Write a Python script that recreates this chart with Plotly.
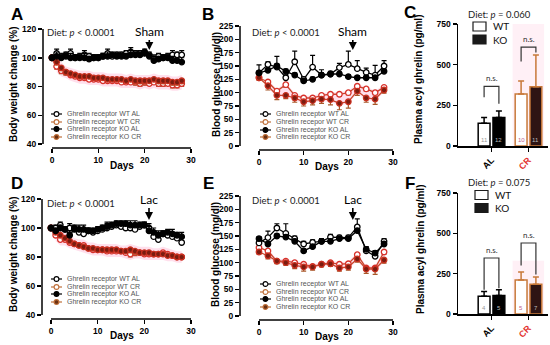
import plotly.graph_objects as go

W, H = 550, 345

# ---------------- data ----------------
days = list(range(29))
days2 = list(range(0, 29, 2))

# Panel A (body weight, sham)
a_wt_al = [100,103,101,102,103,100,101,102,101,100,100,101,103,101,102,102,103,104,103,103,104,102,99,101,100,101,102,102,102]
a_ko_al = [100,101,100,101,100,100,100,100,99,100,100,101,101,102,101,101,101,102,102,102,103,101,98,99,100,100,98,98,97]
a_wt_cr = [100,94,91,90,88,87,86,86,85,85,85,84,84,84,84,83,83,83,83,82,83,82,83,82,82,82,81,81,82]
a_ko_cr = [100,97,93,90,89,88,87,87,87,86,86,86,85,85,85,85,84,85,84,84,84,84,85,84,84,84,83,83,84]
a_al_err = [0,3,2,2,3,2,2,3,2,2,2,2,3,2,2,2,2,3,2,2,2,2,3,2,2,2,3,2,3]
a_cr_err = [0,2,2,2,1,1,1,1,1,1,1,1,1,1,1,1,1,1,2,2,2,1,1,2,2,1,2,2,2]

# Panel B (blood glucose, sham)
b_wt_al = [137,153,148,128,158,125,148,133,135,147,153,145,138,133,150]
b_ko_al = [137,142,150,140,133,122,125,133,135,135,130,128,128,128,140]
b_wt_cr = [128,120,103,115,95,90,90,95,97,97,100,112,107,100,110]
b_ko_cr = [128,113,95,95,90,83,85,88,87,80,83,103,90,88,105]
b_wt_al_err = [15,5,20,5,20,5,22,10,5,8,25,15,8,18,10]
b_ko_al_err = [4,4,4,4,4,4,4,4,4,4,4,4,4,4,4]
b_wt_cr_err = [4,4,4,5,5,4,4,4,4,4,4,4,4,4,4]
b_ko_cr_err = [4,8,8,6,8,8,8,8,10,12,12,8,8,10,6]

# Panel C (plasma acyl ghrelin, sham)
groups = ["AL", "CR"]
c_wt = [140, 320]
c_ko = [175, 365]
c_wt_err = [35, 80]
c_ko_err = [40, 195]
c_n_wt = ["11", "10"]
c_n_ko = ["12", "11"]
c_br_top = [366, 608]
c_br_left = [300, 520]
c_br_right = [260, 575]

# Panel D (body weight, lac)
d_wt_al = [100,100,102,99,100,100,97,96,98,97,98,99,100,101,102,101,100,100,99,101,102,100,94,92,96,95,94,93,90]
d_ko_al = [100,98,100,99,95,99,99,99,98,98,99,100,101,102,103,103,103,102,102,102,102,98,97,95,96,97,96,95,94]
d_wt_cr = [100,95,92,92,90,89,88,88,86,85,85,85,84,84,84,84,83,82,83,83,82,82,82,82,83,82,81,80,80]
d_ko_cr = [100,97,95,93,91,89,88,87,86,86,85,85,85,85,85,84,84,85,84,83,83,83,82,82,82,81,81,80,80]
d_al_err = [0,2,2,2,3,2,3,3,2,2,2,2,3,2,2,2,2,3,3,2,2,3,3,3,2,2,3,2,3]
d_cr_err = [0,1,1,1,1,1,1,1,1,1,1,1,1,1,1,1,1,2,2,1,1,1,1,1,1,1,1,1,1]

# Panel E (blood glucose, lac)
e_wt_al = [137,147,165,155,145,135,138,140,148,147,147,167,122,112,140]
e_ko_al = [145,135,150,148,140,122,130,140,140,145,145,160,125,118,135]
e_wt_cr = [128,122,103,103,100,97,93,97,100,97,98,115,90,90,120]
e_ko_cr = [120,113,103,100,95,92,92,97,98,90,92,107,88,88,105]
e_wt_al_err = [5,12,8,18,5,5,5,5,5,4,4,15,8,10,5]
e_ko_al_err = [4,4,4,4,4,4,4,4,4,4,4,4,4,4,4]
e_wt_cr_err = [4,4,4,4,4,4,4,4,4,4,4,4,4,4,4]
e_ko_cr_err = [4,6,5,5,6,8,6,5,5,6,6,6,8,10,6]

# Panel F (plasma acyl ghrelin, lac)
f_wt = [110, 210]
f_ko = [115, 185]
f_wt_err = [30, 50]
f_ko_err = [35, 45]
f_n_wt = ["4", "5"]
f_n_ko = ["5", "7"]
f_br_top = [347, 440]
f_br_left = [150, 300]
f_br_right = [160, 245]

legend_names = ["Ghrelin receptor WT AL", "Ghrelin recepor WT CR",
                "Ghrelin receptor KO AL", "Ghrelin receptor KO CR"]

# ---------------- styling ----------------
TICKFONT = dict(family="Liberation Sans", size=8.5, color="black", weight="bold")
SOFT = "Lato"
RED = "#d8302a"
REDLINE = "#c8452a"
BROWN = "#7a1c10"
ERRCR = "#a8582a"
BARCR = "#c8793a"
PINK = "rgba(255,185,212,0.45)"

STY = {
    "wt_al": dict(line="black", fill="white", mline="black", err="black"),
    "wt_cr": dict(line=REDLINE, fill="white", mline=RED, err=ERRCR),
    "ko_al": dict(line="black", fill="black", mline="black", err="black"),
    "ko_cr": dict(line=REDLINE, fill=BROWN, mline="#c83020", err=ERRCR),
}


def fx(p):
    return p / W


def fy(p):
    return 1 - p / H


fig = go.Figure()
shapes = []
annots = []
layout_axes = {}


def ann(x, y, text, size=9, family=SOFT, color="black", xanchor="center", yanchor="middle",
        weight="normal", angle=0):
    annots.append(dict(x=fx(x), y=fy(y), xref="paper", yref="paper", text=text, showarrow=False,
                       xanchor=xanchor, yanchor=yanchor, textangle=angle,
                       font=dict(family=family, size=size, color=color, weight=weight)))


def line_panel(k, spine_x, x0px, x30px, axis_y, ytop_px, ybot_px, ymin, ymax, ystep,
               xs, series, errs, err_dirs, ytitle, ytitle_x, ytitle_y, days_y, days_x,
               diet_xy, arrow_text, arrow_tip_px, arrow_text_y, legend_x, legend_rows, letter, letter_xy):
    xa = "xaxis" if k == 1 else f"xaxis{k}"
    ya = "yaxis" if k == 1 else f"yaxis{k}"
    xr = "x" if k == 1 else f"x{k}"
    yr = "y" if k == 1 else f"y{k}"
    ppu_x = (x30px - x0px) / 30.0
    ppu_y = (ybot_px - ytop_px) / float(ymax - ymin)
    xlo = -(x0px - spine_x) / ppu_x
    ylo = ymin - (axis_y - ybot_px) / ppu_y
    layout_axes[xa] = dict(domain=[fx(spine_x), fx(x30px)], range=[xlo, 30], anchor=yr,
                           tickvals=[0, 10, 20, 30], ticks="outside", ticklen=4, tickwidth=1.5,
                           tickcolor="black", showline=False, showgrid=False, zeroline=False,
                           tickfont=TICKFONT, fixedrange=True, automargin=False)
    layout_axes[ya] = dict(domain=[fy(axis_y), fy(ytop_px)], range=[ylo, ymax], anchor=xr,
                           tickvals=list(range(ymin, ymax + 1, ystep)), ticks="outside", ticklen=4,
                           tickwidth=1.5, tickcolor="black", showline=False, showgrid=False,
                           zeroline=False, tickfont=TICKFONT, fixedrange=True, automargin=False)
    # axis lines (GraphPad-style offset axes)
    shapes.append(dict(type="line", xref="paper", yref="paper", x0=fx(x0px), x1=fx(x30px),
                       y0=fy(axis_y), y1=fy(axis_y), line=dict(color="black", width=1.5)))
    shapes.append(dict(type="line", xref="paper", yref="paper", x0=fx(spine_x), x1=fx(spine_x),
                       y0=fy(ybot_px), y1=fy(ytop_px), line=dict(color="black", width=1.5)))
    # pink highlight behind CR data
    wt_cr, ko_cr = series["wt_cr"], series["ko_cr"]
    upper = [max(a, b) + 4 for a, b in zip(wt_cr, ko_cr)][1:]
    lower = [min(a, b) - 4 for a, b in zip(wt_cr, ko_cr)][1:]
    fig.add_trace(go.Scatter(x=xs[1:], y=lower, mode="lines", line=dict(width=0), xaxis=xr, yaxis=yr,
                             showlegend=False, hoverinfo="skip"))
    fig.add_trace(go.Scatter(x=xs[1:], y=upper, mode="lines", line=dict(width=0), fill="tonexty",
                             fillcolor=PINK, xaxis=xr, yaxis=yr, showlegend=False, hoverinfo="skip"))
    for key in ["wt_cr", "ko_cr", "wt_al", "ko_al"]:
        s = STY[key]
        e = errs[key]
        up = err_dirs[key] == "up"
        fig.add_trace(go.Scatter(
            x=xs, y=series[key], mode="lines+markers", xaxis=xr, yaxis=yr, showlegend=False,
            line=dict(color=s["line"], width=1.3),
            marker=dict(symbol="circle", size=5.5, color=s["fill"], line=dict(color=s["mline"], width=1.3)),
            error_y=dict(type="data", symmetric=False, array=e if up else [0] * len(e),
                         arrayminus=[0] * len(e) if up else e, color=s["err"], thickness=1.2, width=2.5),
        ))
    # titles
    ann(ytitle_x, ytitle_y, ytitle, size=10, family="Liberation Sans", weight="bold", angle=-90)
    ann(days_x, days_y, "Days", size=10, family="Liberation Sans", weight="bold")
    ann(diet_xy[0], diet_xy[1], "Diet: <i>p</i> &lt; 0.0001", size=9.5, color="#222")
    ann(letter_xy[0], letter_xy[1], letter, size=17, family="Liberation Sans", weight="bold")
    # arrow
    tip_y = ymax - (arrow_tip_px - ytop_px) / ppu_y
    annots.append(dict(x=21, y=tip_y, xref=xr, yref=yr, text=arrow_text, showarrow=True,
                       ax=0, ay=arrow_text_y - arrow_tip_px, arrowhead=2, arrowsize=1, arrowwidth=1.6,
                       arrowcolor="black", standoff=0,
                       font=dict(family=SOFT, size=12, color="black")))
    # legend
    for (key, name, ry) in zip(["wt_al", "wt_cr", "ko_al", "ko_cr"], legend_names, legend_rows):
        s = STY[key]
        lc = "black" if key.endswith("al") else "#c0703a"
        fc = s["fill"] if key != "ko_cr" else "#6a3012"
        shapes.append(dict(type="line", xref="paper", yref="paper", x0=fx(legend_x), x1=fx(legend_x + 11),
                           y0=fy(ry), y1=fy(ry), line=dict(color=lc, width=1.2)))
        shapes.append(dict(type="circle", xref="paper", yref="paper", xsizemode="pixel", ysizemode="pixel",
                           xanchor=fx(legend_x + 5.5), yanchor=fy(ry), x0=-2.4, x1=2.4, y0=-2.4, y1=2.4,
                           fillcolor=fc, line=dict(color=lc, width=1.1)))
        ann(legend_x + 14, ry, name, size=7, family="Liberation Sans", color="#555", xanchor="left")


def bar_panel(k, spine_x, right_x, axis_y, ytop_px, wt, ko, wt_err, ko_err, n_wt, n_ko,
              br_top, br_left, br_right, diet_text, diet_xy, leg_x, leg_rows, ytitle_xy, letter, letter_xy,
              pink_top):
    xa = f"xaxis{k}"
    ya = f"yaxis{k}"
    xr = f"x{k}"
    yr = f"y{k}"
    al_px = 491.5
    ppu = 37.0
    xlo = (spine_x - al_px) / ppu
    xhi = (right_x - al_px) / ppu
    layout_axes[xa] = dict(domain=[fx(spine_x), fx(right_x)], range=[xlo, xhi], anchor=yr,
                           tickvals=[0, 1], ticktext=[groups[0], "<span style='color:#e3342f'>" + groups[1] + "</span>"],
                           tickangle=-45, ticks="outside", ticklen=4, tickwidth=1.5, tickcolor="black",
                           showline=True, linecolor="black", linewidth=1.5, showgrid=False, zeroline=False,
                           tickfont=dict(family="Liberation Sans", size=9, color="black", weight="bold"),
                           fixedrange=True, automargin=False)
    layout_axes[ya] = dict(domain=[fy(axis_y), fy(ytop_px)], range=[0, 750], anchor=xr,
                           tickvals=[0, 250, 500, 750], ticks="outside", ticklen=4, tickwidth=1.5,
                           tickcolor="black", showline=True, linecolor="black", linewidth=1.5,
                           showgrid=False, zeroline=False, tickfont=TICKFONT, fixedrange=True, automargin=False)
    shapes.append(dict(type="rect", xref=xr, yref=yr, x0=0.57, x1=1.42, y0=0, y1=pink_top,
                       fillcolor="rgba(255,205,225,0.3)", line=dict(width=0), layer="below"))
    for g in range(2):
        edge = "black" if g == 0 else BARCR
        kofill = "black" if g == 0 else "#2e1414"
        fig.add_trace(go.Bar(x=[g - 0.2], y=[wt[g]], width=0.32, xaxis=xr, yaxis=yr, showlegend=False,
                             marker=dict(color="white", line=dict(color=edge, width=1.5)),
                             error_y=dict(type="data", symmetric=False, array=[wt_err[g]], arrayminus=[0],
                                          color=edge, thickness=1.5, width=3)))
        fig.add_trace(go.Bar(x=[g + 0.2], y=[ko[g]], width=0.32, xaxis=xr, yaxis=yr, showlegend=False,
                             marker=dict(color=kofill, line=dict(color=edge if g else "black", width=1.5)),
                             error_y=dict(type="data", symmetric=False, array=[ko_err[g]], arrayminus=[0],
                                          color=edge if g else "black", thickness=1.5, width=3)))
        # n labels
        annots.append(dict(x=g - 0.2, y=8, xref=xr, yref=yr, text=n_wt[g], showarrow=False, yanchor="bottom",
                           font=dict(family="Liberation Sans", size=6, color="#999" if g == 0 else "#c0608a")))
        annots.append(dict(x=g + 0.2, y=8, xref=xr, yref=yr, text=n_ko[g], showarrow=False, yanchor="bottom",
                           font=dict(family="Liberation Sans", size=6, color="#bbb")))
        # n.s. bracket
        shapes.append(dict(type="path", xref=xr, yref=yr,
                           path=f"M {g-0.2},{br_left[g]} L {g-0.2},{br_top[g]} L {g+0.2},{br_top[g]} L {g+0.2},{br_right[g]}",
                           line=dict(color="#333", width=1.2)))
        annots.append(dict(x=g, y=br_top[g] + 8, xref=xr, yref=yr, text="n.s.", showarrow=False, yanchor="bottom",
                           font=dict(family=SOFT, size=8, color="#333")))
    ann(diet_xy[0], diet_xy[1], diet_text, size=9.5, color="#222")
    for name, ry, filled in zip(["WT", "KO"], leg_rows, [False, True]):
        shapes.append(dict(type="rect", xref="paper", yref="paper", x0=fx(leg_x), x1=fx(leg_x + 13),
                           y0=fy(ry + 4.5), y1=fy(ry - 4.5), fillcolor="#1a1a1a" if filled else "white",
                           line=dict(color="#1a1a1a", width=1.2)))
        ann(leg_x + 18, ry, name, size=10, color="#111", xanchor="left")
    ann(ytitle_xy[0], ytitle_xy[1], "Plasma acyl ghrelin (pg/ml)", size=10, family="Liberation Sans",
        weight="bold", angle=-90)
    ann(letter_xy[0], letter_xy[1], letter, size=17, family="Liberation Sans", weight="bold")


up_dirs = {"wt_al": "up", "ko_al": "up", "wt_cr": "down", "ko_cr": "down"}

# A
line_panel(1, 43, 52, 191, 148, 29, 144, 40, 120, 20, days,
           {"wt_al": a_wt_al, "ko_al": a_ko_al, "wt_cr": a_wt_cr, "ko_cr": a_ko_cr},
           {"wt_al": a_al_err, "ko_al": a_al_err, "wt_cr": a_cr_err, "ko_cr": a_cr_err}, up_dirs,
           "Body weight change (%)", 13, 84, 165, 122, (81, 32), "Sham", 50, 31, 51,
           [114, 122, 129, 137], "A", (17, 14))
# B
line_panel(2, 240, 259, 393, 150, 26, 146, 0, 225, 25, days2,
           {"wt_al": b_wt_al, "ko_al": b_ko_al, "wt_cr": b_wt_cr, "ko_cr": b_ko_cr},
           {"wt_al": b_wt_al_err, "ko_al": b_ko_al_err, "wt_cr": b_wt_cr_err, "ko_cr": b_ko_cr_err}, up_dirs,
           "Blood glucose (mg/dl)", 216, 85, 166, 327, (286, 32), "Sham", 50, 31, 260,
           [114, 122, 130, 137], "B", (208, 14))
# C
bar_panel(3, 458, 548, 146, 24, c_wt, c_ko, c_wt_err, c_ko_err, c_n_wt, c_n_ko,
          c_br_top, c_br_left, c_br_right, "Diet: <i>p</i> = 0.060", (499, 15), 473, [26.5, 39.5],
          (418, 80), "C", (410, 13), 760)
# D
line_panel(4, 42, 51, 191, 319, 199, 315, 40, 120, 20, days,
           {"wt_al": d_wt_al, "ko_al": d_ko_al, "wt_cr": d_wt_cr, "ko_cr": d_ko_cr},
           {"wt_al": d_al_err, "ko_al": d_al_err, "wt_cr": d_cr_err, "ko_cr": d_cr_err}, up_dirs,
           "Body weight change (%)", 13, 254, 335, 122, (81, 203), "Lac", 220, 199, 51,
           [279, 287, 294, 302], "D", (17, 183))
# E
line_panel(5, 240, 259, 393, 320, 196, 316, 0, 225, 25, days2,
           {"wt_al": e_wt_al, "ko_al": e_ko_al, "wt_cr": e_wt_cr, "ko_cr": e_ko_cr},
           {"wt_al": e_wt_al_err, "ko_al": e_ko_al_err, "wt_cr": e_wt_cr_err, "ko_cr": e_ko_cr_err}, up_dirs,
           "Blood glucose (mg/dl)", 216, 255, 336, 327, (286, 200), "Lac", 220, 199, 260,
           [284, 292, 299, 307], "E", (208, 183))
# F
bar_panel(6, 458, 548, 314, 193, f_wt, f_ko, f_wt_err, f_ko_err, f_n_wt, f_n_ko,
          f_br_top, f_br_left, f_br_right, "Diet: <i>p</i> = 0.075", (499, 182), 475, [195, 208],
          (420, 250), "F", (410, 183), 330)

fig.update_layout(width=W, height=H, margin=dict(l=0, r=0, t=0, b=0), paper_bgcolor="white",
                  plot_bgcolor="rgba(0,0,0,0)", showlegend=False, barmode="overlay",
                  shapes=shapes, annotations=annots, **layout_axes)

fig.write_html("out.html", config={"displayModeBar": False, "staticPlot": True},
               post_script="document.body.style.margin='0px';document.body.style.overflow='hidden';")
